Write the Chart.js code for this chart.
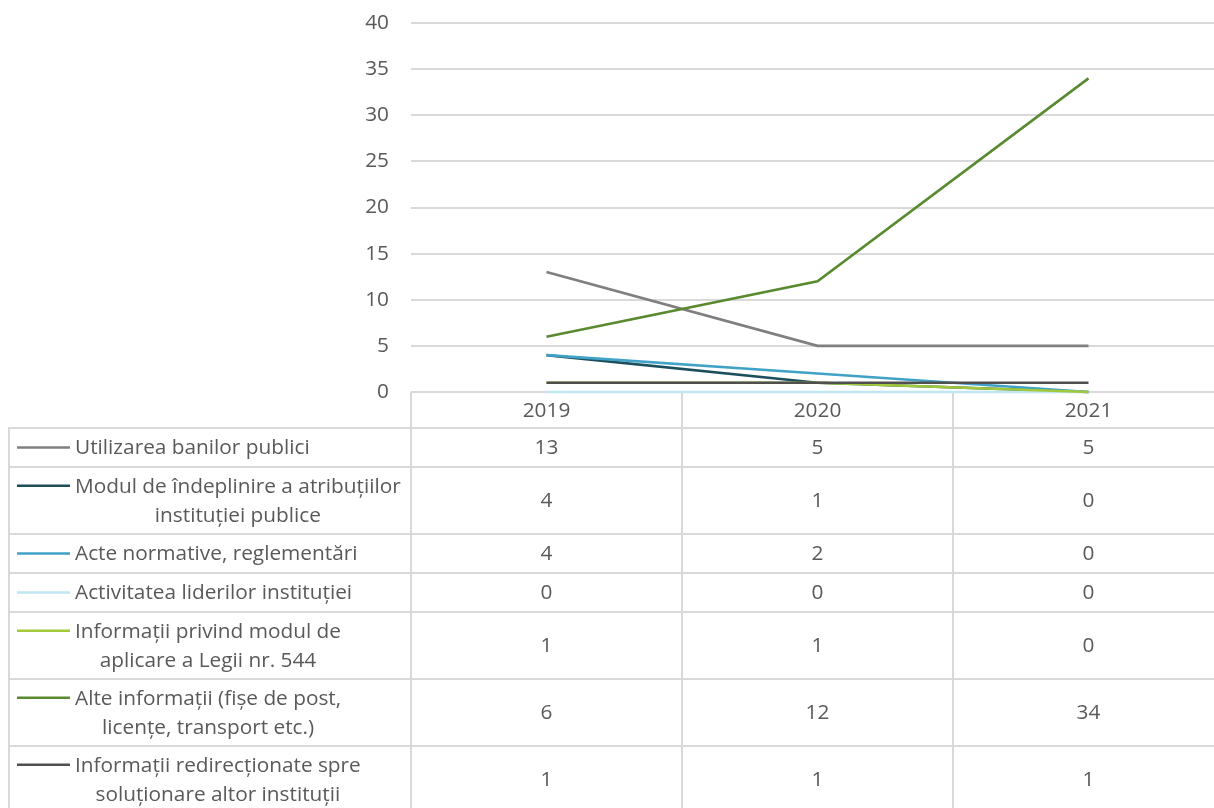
<!DOCTYPE html>
<html>
<head>
<meta charset="utf-8">
<script src="https://cdn.jsdelivr.net/npm/chart.js@4/dist/chart.umd.min.js"></script>
<style>
  html, body { margin: 0; padding: 0; background: #ffffff; overflow: hidden; }
  #wrap { position: absolute; left: 0; top: 0; width: 1226px; height: 816px; }
</style>
</head>
<body>
<div id="wrap"><canvas id="c" width="1226" height="816"></canvas></div>
<script>
// ---- data ----
const years = ['2019', '2020', '2021'];
const seriesNames = [
  ['Utilizarea banilor publici'],
  ['Modul de îndeplinire a atribuțiilor', 'instituției publice'],
  ['Acte normative, reglementări'],
  ['Activitatea liderilor instituției'],
  ['Informații privind modul de', 'aplicare a Legii nr. 544'],
  ['Alte informații (fișe de post,', 'licențe, transport etc.)'],
  ['Informații redirecționate spre', 'soluționare altor instituții']
];
const utilizareaBanilor = [13, 5, 5];
const modulIndeplinire = [4, 1, 0];
const acteNormative = [4, 2, 0];
const activitateaLiderilor = [0, 0, 0];
const informatiiLege544 = [1, 1, 0];
const alteInformatii = [6, 12, 34];
const informatiiRedirectionate = [1, 1, 1];
const seriesValues = [utilizareaBanilor, modulIndeplinire, acteNormative, activitateaLiderilor,
                      informatiiLege544, alteInformatii, informatiiRedirectionate];
const seriesColors = ['#7f7f7f', '#1c4f5c', '#40a2c6', '#bfe6f1', '#a2c93a', '#5a8a30', '#4f4f4f'];
const yTicks = { min: 0, max: 40, step: 5 };

// ---- style ----
const FONT = '"Open Sans", "Noto Sans", sans-serif';
const FSIZE = 20.8;
const TEXT = '#595959';
const GRID = '#d9d9d9';

const datasets = seriesValues.map((vals, i) => ({
  label: seriesNames[i].join(' '),
  data: vals,
  borderColor: seriesColors[i],
  backgroundColor: seriesColors[i],
  borderWidth: 2.6,
  pointRadius: 0,
  pointHoverRadius: 0,
  tension: 0,
  fill: false,
  clip: 4,
  order: seriesValues.length - i
}));

const tablePlugin = {
  id: 'dataTable',
  beforeDatasetsDraw(chart) {
    const ctx = chart.ctx;
    const xs = chart.scales.x;
    const area = chart.chartArea;
    const leftX = 9;
    const headerH = 36;
    const lineH = 28;
    const lineGap = 29.5;
    const colHalf = (xs.getPixelForValue(1) - xs.getPixelForValue(0)) / 2;
    const rightX = area.right;

    const rows = [];
    let y = area.bottom + headerH;
    seriesNames.forEach(n => {
      const h = n.length * lineH + 11;
      rows.push({ top: y, bottom: y + h });
      y += h;
    });
    const tableBottom = y;

    ctx.save();
    ctx.strokeStyle = GRID;
    ctx.lineWidth = 2;
    ctx.beginPath();
    rows.forEach(r => {
      ctx.moveTo(leftX, r.top); ctx.lineTo(rightX, r.top);
    });
    ctx.moveTo(leftX, tableBottom); ctx.lineTo(rightX, tableBottom);
    ctx.moveTo(leftX, rows[0].top - 1); ctx.lineTo(leftX, tableBottom);
    for (let i = 0; i <= years.length; i++) {
      const vx = i < years.length ? xs.getPixelForValue(i) - colHalf : xs.getPixelForValue(years.length - 1) + colHalf;
      ctx.moveTo(vx, area.bottom); ctx.lineTo(vx, tableBottom);
    }
    ctx.stroke();

    ctx.fillStyle = TEXT;
    ctx.font = FSIZE + 'px ' + FONT;
    ctx.textBaseline = 'middle';
    ctx.textAlign = 'center';
    years.forEach((yr, i) => {
      ctx.fillText(yr, xs.getPixelForValue(i), area.bottom + headerH / 2 + 1);
    });

    rows.forEach((r, si) => {
      const cy = (r.top + r.bottom) / 2 + 1;
      seriesValues[si].forEach((v, i) => {
        ctx.fillText(String(v), xs.getPixelForValue(i), cy);
      });
      const lines = seriesNames[si];
      const widths = lines.map(l => ctx.measureText(l).width);
      const blockW = Math.max(...widths);
      const textLeft = 75;
      const blockCenter = textLeft + blockW / 2;
      const firstY = cy - (lines.length - 1) * lineGap / 2;
      lines.forEach((l, li) => {
        ctx.fillText(l, blockCenter, firstY + li * lineGap);
      });
      ctx.save();
      ctx.strokeStyle = seriesColors[si];
      ctx.lineWidth = 2.6;
      ctx.beginPath();
      ctx.moveTo(17, firstY - 1);
      ctx.lineTo(70, firstY - 1);
      ctx.stroke();
      ctx.restore();
    });
    ctx.restore();
  }
};

new Chart(document.getElementById('c'), {
  type: 'line',
  data: { labels: years, datasets },
  options: {
    responsive: false,
    animation: false,
    events: [],
    layout: { padding: { left: 0, right: 2, top: 23, bottom: 816 - 392 } },
    plugins: { legend: { display: false }, tooltip: { enabled: false } },
    scales: {
      x: {
        offset: true,
        ticks: { display: false },
        grid: { display: false, drawTicks: false },
        border: { display: false },
        afterFit(scale) { scale.height = 0; scale.paddingLeft = 0; scale.paddingRight = 0; }
      },
      y: {
        min: yTicks.min,
        max: yTicks.max,
        ticks: {
          stepSize: yTicks.step,
          color: TEXT,
          font: { family: FONT, size: FSIZE },
          padding: 22
        },
        grid: { color: GRID, lineWidth: 2, drawTicks: false },
        border: { display: false },
        afterFit(scale) { scale.width = 411; scale.paddingTop = 0; scale.paddingBottom = 0; }
      }
    }
  },
  plugins: [tablePlugin]
});
</script>
</body>
</html>
